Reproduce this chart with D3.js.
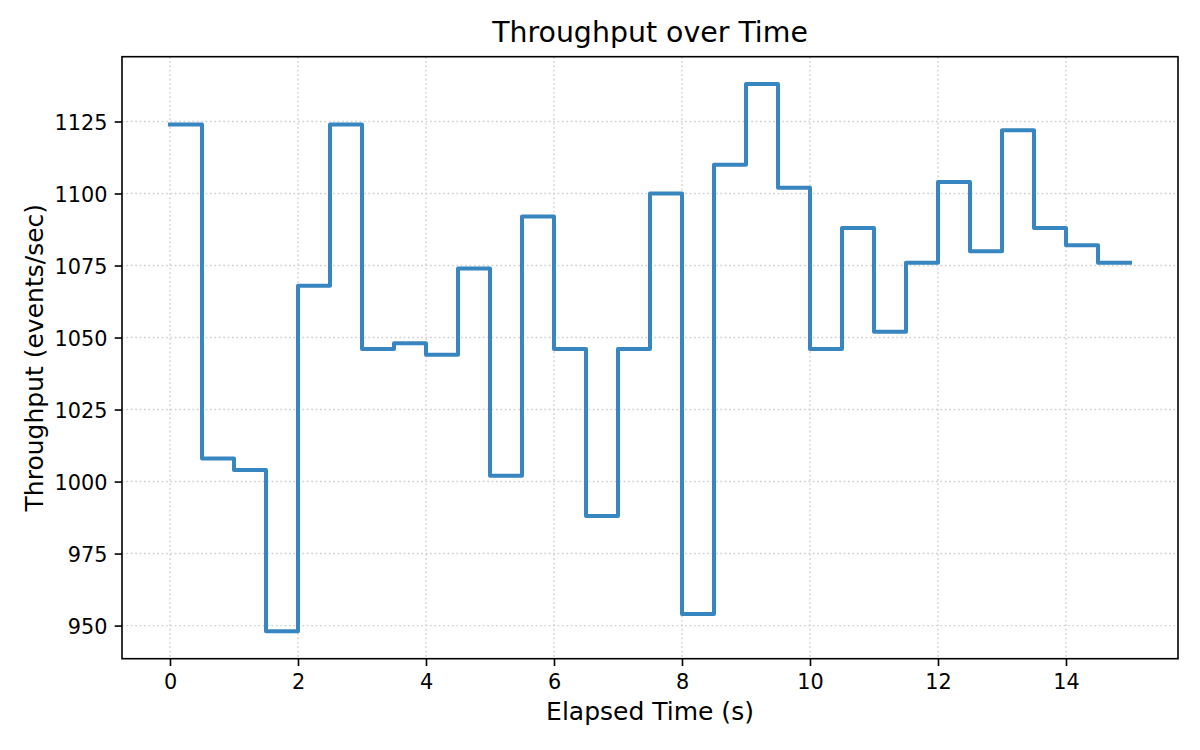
<!DOCTYPE html>
<html>
<head>
<meta charset="utf-8">
<script src="https://cdn.jsdelivr.net/npm/d3@7"></script>
<style>
    body { margin: 0; background: #ffffff; }
    text { font-family: "DejaVu Sans", sans-serif; fill: #000000; }
</style>
</head>
<body>
<div id="chart"></div>
<script>
// elapsed time of each step (s), last point closes the final step
const times = [0, 0.5, 1, 1.5, 2, 2.5, 3, 3.5, 4, 4.5, 5, 5.5, 6, 6.5, 7, 7.5,
    8, 8.5, 9, 9.5, 10, 10.5, 11, 11.5, 12, 12.5, 13, 13.5, 14, 14.5, 15];

// throughput (events/sec)
const throughput = [1124, 1008, 1004, 948, 1068, 1124, 1046, 1048, 1044, 1074,
    1002, 1092, 1046, 988, 1046, 1100, 954, 1110, 1138, 1102, 1046, 1088, 1052,
    1076, 1104, 1080, 1122, 1088, 1082, 1076, 1076];

// tick values on both axes
const xTicks = [0, 2, 4, 6, 8, 10, 12, 14];
const yTicks = [950, 975, 1000, 1025, 1050, 1075, 1100, 1125];

const width = 1200;
const height = 750;
const margin = {top: 56.7, right: 22, bottom: 91.3, left: 122};

const data = times.map(function (t, i) {
    return {t: t, v: throughput[i]};
});

// initialize svg
const svg = d3.select('#chart')
    .append('svg')
    .attr('width', width)
    .attr('height', height);

svg.append('rect')
    .attr('width', width)
    .attr('height', height)
    .attr('fill', '#ffffff');

// scales with matplotlib style 5% padding
const xPad = (d3.max(times) - d3.min(times)) * 0.05;
const xScale = d3.scaleLinear()
    .domain([d3.min(times) - xPad, d3.max(times) + xPad])
    .range([margin.left, width - margin.right]);

const yPad = (d3.max(throughput) - d3.min(throughput)) * 0.05;
const yScale = d3.scaleLinear()
    .domain([d3.min(throughput) - yPad, d3.max(throughput) + yPad])
    .range([height - margin.bottom, margin.top]);

// dotted grid
const grid = svg.append('g')
    .attr('stroke', '#cfcfcf')
    .attr('stroke-width', 1.4)
    .attr('stroke-dasharray', '1.7,2.7');

grid.selectAll('.vgrid')
    .data(xTicks)
    .enter()
    .append('line')
    .attr('x1', function (d) { return xScale(d); })
    .attr('x2', function (d) { return xScale(d); })
    .attr('y1', margin.top)
    .attr('y2', height - margin.bottom);

grid.selectAll('.hgrid')
    .data(yTicks)
    .enter()
    .append('line')
    .attr('y1', function (d) { return yScale(d); })
    .attr('y2', function (d) { return yScale(d); })
    .attr('x1', margin.left)
    .attr('x2', width - margin.right);

// step line
const line = d3.line()
    .x(function (d) { return xScale(d.t); })
    .y(function (d) { return yScale(d.v); })
    .curve(d3.curveStepAfter);

svg.append('path')
    .datum(data)
    .attr('fill', 'none')
    .attr('stroke', '#3786bf')
    .attr('stroke-width', 4)
    .attr('stroke-linejoin', 'round')
    .attr('stroke-linecap', 'square')
    .attr('d', line);

// x axis
const xAxis = svg.append('g')
    .attr('transform', `translate(0, ${height - margin.bottom})`)
    .call(d3.axisBottom(xScale).tickValues(xTicks).tickFormat(d3.format('d'))
        .tickSize(7.3).tickPadding(7.3).tickSizeOuter(0));

// y axis
const yAxis = svg.append('g')
    .attr('transform', `translate(${margin.left}, 0)`)
    .call(d3.axisLeft(yScale).tickValues(yTicks).tickFormat(d3.format('d'))
        .tickSize(7.3).tickPadding(7.3).tickSizeOuter(0));

[xAxis, yAxis].forEach(function (ax) {
    ax.select('.domain').remove();
    ax.selectAll('.tick line')
        .attr('stroke', '#000000')
        .attr('stroke-width', 1.6);
    ax.selectAll('.tick text')
        .attr('font-family', '"DejaVu Sans", sans-serif')
        .attr('font-size', '20.8px')
        .attr('fill', '#000000');
});

xAxis.selectAll('.tick text')
    .attr('dy', null)
    .attr('y', 30.8);

yAxis.selectAll('.tick text')
    .attr('dy', null)
    .attr('y', 8);

// frame
svg.append('rect')
    .attr('x', margin.left)
    .attr('y', margin.top)
    .attr('width', width - margin.left - margin.right)
    .attr('height', height - margin.top - margin.bottom)
    .attr('fill', 'none')
    .attr('stroke', '#000000')
    .attr('stroke-width', 1.6);

// title and axis labels
const centerX = (margin.left + width - margin.right) / 2;
const centerY = (margin.top + height - margin.bottom) / 2;

svg.append('text')
    .attr('x', centerX)
    .attr('y', 42)
    .attr('text-anchor', 'middle')
    .style('font-size', '28.4px')
    .text('Throughput over Time');

svg.append('text')
    .attr('x', centerX)
    .attr('y', 720)
    .attr('text-anchor', 'middle')
    .style('font-size', '25px')
    .text('Elapsed Time (s)');

svg.append('text')
    .attr('transform', `translate(43.3, ${centerY}) rotate(-90)`)
    .attr('text-anchor', 'middle')
    .style('font-size', '25px')
    .text('Throughput (events/sec)');
</script>
</body>
</html>
